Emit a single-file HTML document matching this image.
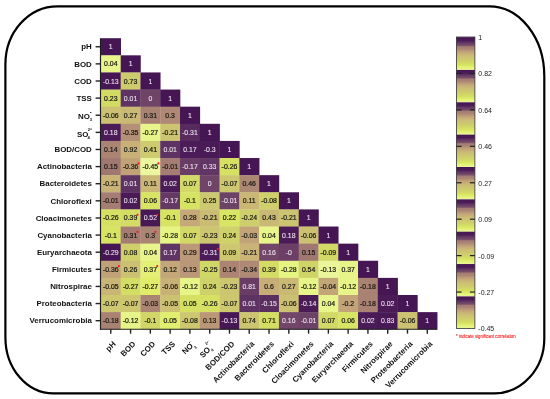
<!DOCTYPE html><html><head><meta charset="utf-8"><style>html,body{margin:0;padding:0;background:#fff;width:550px;height:399px;overflow:hidden}svg{display:block;will-change:transform}</style></head><body><svg width="550" height="399" viewBox="0 0 550 399">
<defs><linearGradient id="bg" x1="0" y1="0" x2="0" y2="1"><stop offset="0.0" stop-color="#461654"/><stop offset="0.1" stop-color="#4c1c58"/><stop offset="0.15" stop-color="#603463"/><stop offset="0.18" stop-color="#683c65"/><stop offset="0.24" stop-color="#784e6a"/><stop offset="0.28" stop-color="#a57c72"/><stop offset="0.35" stop-color="#ac8674"/><stop offset="0.41" stop-color="#bc9a78"/><stop offset="0.48" stop-color="#c7ac78"/><stop offset="0.55" stop-color="#cbbc74"/><stop offset="0.65" stop-color="#cdc870"/><stop offset="0.74" stop-color="#d0d468"/><stop offset="0.83" stop-color="#d7e362"/><stop offset="0.89" stop-color="#e0ee6c"/><stop offset="0.94" stop-color="#e6f482"/><stop offset="1.0" stop-color="#ebf69e"/></linearGradient></defs>
<path d="M 57.4 6.3 H 489.29999999999995 A 55 70 0 0 1 544.3 76.3 V 338.4 A 50 55 0 0 1 494.29999999999995 393.4 H 53.4 A 48 56 0 0 1 5.4 337.4 V 64.3 A 52 58 0 0 1 57.4 6.3 Z" fill="none" stroke="#000" stroke-width="2.2"/>
<g><rect x="100.90" y="38.20" width="20.08" height="17.42" fill="#461654"/><rect x="100.90" y="55.32" width="20.08" height="17.42" fill="#e8f58b"/><rect x="120.68" y="55.32" width="20.08" height="17.42" fill="#461654"/><rect x="100.90" y="72.44" width="20.08" height="17.42" fill="#471755"/><rect x="120.68" y="72.44" width="20.08" height="17.42" fill="#cecb6e"/><rect x="140.46" y="72.44" width="20.08" height="17.42" fill="#461654"/><rect x="100.90" y="89.56" width="20.08" height="17.42" fill="#d3db65"/><rect x="120.68" y="89.56" width="20.08" height="17.42" fill="#5e3262"/><rect x="140.46" y="89.56" width="20.08" height="17.42" fill="#6f4467"/><rect x="160.24" y="89.56" width="20.08" height="17.42" fill="#461654"/><rect x="100.90" y="106.68" width="20.08" height="17.42" fill="#ccc073"/><rect x="120.68" y="106.68" width="20.08" height="17.42" fill="#cab875"/><rect x="140.46" y="106.68" width="20.08" height="17.42" fill="#a98273"/><rect x="160.24" y="106.68" width="20.08" height="17.42" fill="#af8975"/><rect x="180.02" y="106.68" width="20.08" height="17.42" fill="#461654"/><rect x="100.90" y="123.80" width="20.08" height="17.42" fill="#4b1b58"/><rect x="120.68" y="123.80" width="20.08" height="17.42" fill="#b49076"/><rect x="140.46" y="123.80" width="20.08" height="17.42" fill="#e8f58b"/><rect x="160.24" y="123.80" width="20.08" height="17.42" fill="#ccc471"/><rect x="180.02" y="123.80" width="20.08" height="17.42" fill="#582b5f"/><rect x="199.80" y="123.80" width="20.08" height="17.42" fill="#461654"/><rect x="100.90" y="140.92" width="20.08" height="17.42" fill="#ab8474"/><rect x="120.68" y="140.92" width="20.08" height="17.42" fill="#c8b077"/><rect x="140.46" y="140.92" width="20.08" height="17.42" fill="#cdca6f"/><rect x="160.24" y="140.92" width="20.08" height="17.42" fill="#5e3262"/><rect x="180.02" y="140.92" width="20.08" height="17.42" fill="#4c1c58"/><rect x="199.80" y="140.92" width="20.08" height="17.42" fill="#4a1a57"/><rect x="219.58" y="140.92" width="20.08" height="17.42" fill="#461654"/><rect x="100.90" y="158.04" width="20.08" height="17.42" fill="#a07771"/><rect x="120.68" y="158.04" width="20.08" height="17.42" fill="#c1a278"/><rect x="140.46" y="158.04" width="20.08" height="17.42" fill="#ebf69e"/><rect x="160.24" y="158.04" width="20.08" height="17.42" fill="#a67d72"/><rect x="180.02" y="158.04" width="20.08" height="17.42" fill="#683c65"/><rect x="199.80" y="158.04" width="20.08" height="17.42" fill="#623664"/><rect x="219.58" y="158.04" width="20.08" height="17.42" fill="#d6e163"/><rect x="239.36" y="158.04" width="20.08" height="17.42" fill="#461654"/><rect x="100.90" y="175.16" width="20.08" height="17.42" fill="#c9b376"/><rect x="120.68" y="175.16" width="20.08" height="17.42" fill="#5e3262"/><rect x="140.46" y="175.16" width="20.08" height="17.42" fill="#cab675"/><rect x="160.24" y="175.16" width="20.08" height="17.42" fill="#4b1b57"/><rect x="180.02" y="175.16" width="20.08" height="17.42" fill="#d3d966"/><rect x="199.80" y="175.16" width="20.08" height="17.42" fill="#6f4467"/><rect x="219.58" y="175.16" width="20.08" height="17.42" fill="#cdc770"/><rect x="239.36" y="175.16" width="20.08" height="17.42" fill="#ac8774"/><rect x="259.14" y="175.16" width="20.08" height="17.42" fill="#461654"/><rect x="100.90" y="192.28" width="20.08" height="17.42" fill="#a67d72"/><rect x="120.68" y="192.28" width="20.08" height="17.42" fill="#4b1b57"/><rect x="140.46" y="192.28" width="20.08" height="17.42" fill="#d8e463"/><rect x="160.24" y="192.28" width="20.08" height="17.42" fill="#653964"/><rect x="180.02" y="192.28" width="20.08" height="17.42" fill="#d7e362"/><rect x="199.80" y="192.28" width="20.08" height="17.42" fill="#cdc970"/><rect x="219.58" y="192.28" width="20.08" height="17.42" fill="#6d4267"/><rect x="239.36" y="192.28" width="20.08" height="17.42" fill="#cab675"/><rect x="259.14" y="192.28" width="20.08" height="17.42" fill="#cfcf6b"/><rect x="278.92" y="192.28" width="20.08" height="17.42" fill="#461654"/><rect x="100.90" y="209.40" width="20.08" height="17.42" fill="#d6e163"/><rect x="120.68" y="209.40" width="20.08" height="17.42" fill="#d4dc65"/><rect x="140.46" y="209.40" width="20.08" height="17.42" fill="#491956"/><rect x="160.24" y="209.40" width="20.08" height="17.42" fill="#d7e362"/><rect x="180.02" y="209.40" width="20.08" height="17.42" fill="#c5a978"/><rect x="199.80" y="209.40" width="20.08" height="17.42" fill="#cbbc74"/><rect x="219.58" y="209.40" width="20.08" height="17.42" fill="#d9e564"/><rect x="239.36" y="209.40" width="20.08" height="17.42" fill="#cfce6c"/><rect x="259.14" y="209.40" width="20.08" height="17.42" fill="#cab975"/><rect x="278.92" y="209.40" width="20.08" height="17.42" fill="#ccc471"/><rect x="298.70" y="209.40" width="20.08" height="17.42" fill="#461654"/><rect x="100.90" y="226.52" width="20.08" height="17.42" fill="#d7e362"/><rect x="120.68" y="226.52" width="20.08" height="17.42" fill="#a57c72"/><rect x="140.46" y="226.52" width="20.08" height="17.42" fill="#ab8574"/><rect x="160.24" y="226.52" width="20.08" height="17.42" fill="#e6f484"/><rect x="180.02" y="226.52" width="20.08" height="17.42" fill="#d3d966"/><rect x="199.80" y="226.52" width="20.08" height="17.42" fill="#cdc671"/><rect x="219.58" y="226.52" width="20.08" height="17.42" fill="#cfd16a"/><rect x="239.36" y="226.52" width="20.08" height="17.42" fill="#c2a478"/><rect x="259.14" y="226.52" width="20.08" height="17.42" fill="#e8f58b"/><rect x="278.92" y="226.52" width="20.08" height="17.42" fill="#4b1b58"/><rect x="298.70" y="226.52" width="20.08" height="17.42" fill="#ccc073"/><rect x="318.48" y="226.52" width="20.08" height="17.42" fill="#461654"/><rect x="100.90" y="243.64" width="20.08" height="17.42" fill="#461654"/><rect x="120.68" y="243.64" width="20.08" height="17.42" fill="#cfd06b"/><rect x="140.46" y="243.64" width="20.08" height="17.42" fill="#e8f58b"/><rect x="160.24" y="243.64" width="20.08" height="17.42" fill="#603463"/><rect x="180.02" y="243.64" width="20.08" height="17.42" fill="#bb9978"/><rect x="199.80" y="243.64" width="20.08" height="17.42" fill="#4b1b57"/><rect x="219.58" y="243.64" width="20.08" height="17.42" fill="#cdc870"/><rect x="239.36" y="243.64" width="20.08" height="17.42" fill="#c9b376"/><rect x="259.14" y="243.64" width="20.08" height="17.42" fill="#714668"/><rect x="278.92" y="243.64" width="20.08" height="17.42" fill="#6b3f66"/><rect x="298.70" y="243.64" width="20.08" height="17.42" fill="#a07771"/><rect x="318.48" y="243.64" width="20.08" height="17.42" fill="#d2d866"/><rect x="338.26" y="243.64" width="20.08" height="17.42" fill="#461654"/><rect x="100.90" y="260.76" width="20.08" height="17.42" fill="#c1a278"/><rect x="120.68" y="260.76" width="20.08" height="17.42" fill="#ccc172"/><rect x="140.46" y="260.76" width="20.08" height="17.42" fill="#e2f075"/><rect x="160.24" y="260.76" width="20.08" height="17.42" fill="#c4a778"/><rect x="180.02" y="260.76" width="20.08" height="17.42" fill="#b99777"/><rect x="199.80" y="260.76" width="20.08" height="17.42" fill="#d1d767"/><rect x="219.58" y="260.76" width="20.08" height="17.42" fill="#ab8474"/><rect x="239.36" y="260.76" width="20.08" height="17.42" fill="#af8975"/><rect x="259.14" y="260.76" width="20.08" height="17.42" fill="#d4dc65"/><rect x="278.92" y="260.76" width="20.08" height="17.42" fill="#e6f484"/><rect x="298.70" y="260.76" width="20.08" height="17.42" fill="#d0d468"/><rect x="318.48" y="260.76" width="20.08" height="17.42" fill="#eaf699"/><rect x="338.26" y="260.76" width="20.08" height="17.42" fill="#e7f487"/><rect x="358.04" y="260.76" width="20.08" height="17.42" fill="#461654"/><rect x="100.90" y="277.88" width="20.08" height="17.42" fill="#c9b576"/><rect x="120.68" y="277.88" width="20.08" height="17.42" fill="#d5de64"/><rect x="140.46" y="277.88" width="20.08" height="17.42" fill="#dfed6b"/><rect x="160.24" y="277.88" width="20.08" height="17.42" fill="#c8b177"/><rect x="180.02" y="277.88" width="20.08" height="17.42" fill="#e7f487"/><rect x="199.80" y="277.88" width="20.08" height="17.42" fill="#cfd16a"/><rect x="219.58" y="277.88" width="20.08" height="17.42" fill="#cdc671"/><rect x="239.36" y="277.88" width="20.08" height="17.42" fill="#683c65"/><rect x="259.14" y="277.88" width="20.08" height="17.42" fill="#c7ad78"/><rect x="278.92" y="277.88" width="20.08" height="17.42" fill="#cab875"/><rect x="298.70" y="277.88" width="20.08" height="17.42" fill="#e7f487"/><rect x="318.48" y="277.88" width="20.08" height="17.42" fill="#c3a678"/><rect x="338.26" y="277.88" width="20.08" height="17.42" fill="#e7f487"/><rect x="358.04" y="277.88" width="20.08" height="17.42" fill="#a98273"/><rect x="377.82" y="277.88" width="20.08" height="17.42" fill="#461654"/><rect x="100.90" y="295.00" width="20.08" height="17.42" fill="#cdc770"/><rect x="120.68" y="295.00" width="20.08" height="17.42" fill="#cdc770"/><rect x="140.46" y="295.00" width="20.08" height="17.42" fill="#ab8574"/><rect x="160.24" y="295.00" width="20.08" height="17.42" fill="#ccc073"/><rect x="180.02" y="295.00" width="20.08" height="17.42" fill="#d6e163"/><rect x="199.80" y="295.00" width="20.08" height="17.42" fill="#d6e163"/><rect x="219.58" y="295.00" width="20.08" height="17.42" fill="#cdc770"/><rect x="239.36" y="295.00" width="20.08" height="17.42" fill="#5e3262"/><rect x="259.14" y="295.00" width="20.08" height="17.42" fill="#5b2e60"/><rect x="278.92" y="295.00" width="20.08" height="17.42" fill="#ccc073"/><rect x="298.70" y="295.00" width="20.08" height="17.42" fill="#4b1b57"/><rect x="318.48" y="295.00" width="20.08" height="17.42" fill="#e8f58b"/><rect x="338.26" y="295.00" width="20.08" height="17.42" fill="#c2a478"/><rect x="358.04" y="295.00" width="20.08" height="17.42" fill="#a98273"/><rect x="377.82" y="295.00" width="20.08" height="17.42" fill="#4b1b57"/><rect x="397.60" y="295.00" width="20.08" height="17.42" fill="#461654"/><rect x="100.90" y="312.12" width="20.08" height="17.42" fill="#a98273"/><rect x="120.68" y="312.12" width="20.08" height="17.42" fill="#e7f487"/><rect x="140.46" y="312.12" width="20.08" height="17.42" fill="#d1d667"/><rect x="160.24" y="312.12" width="20.08" height="17.42" fill="#e1ef6f"/><rect x="180.02" y="312.12" width="20.08" height="17.42" fill="#cdc770"/><rect x="199.80" y="312.12" width="20.08" height="17.42" fill="#b99777"/><rect x="219.58" y="312.12" width="20.08" height="17.42" fill="#471755"/><rect x="239.36" y="312.12" width="20.08" height="17.42" fill="#ccc471"/><rect x="259.14" y="312.12" width="20.08" height="17.42" fill="#d5de64"/><rect x="278.92" y="312.12" width="20.08" height="17.42" fill="#714668"/><rect x="298.70" y="312.12" width="20.08" height="17.42" fill="#6d4267"/><rect x="318.48" y="312.12" width="20.08" height="17.42" fill="#d3d966"/><rect x="338.26" y="312.12" width="20.08" height="17.42" fill="#d8e463"/><rect x="358.04" y="312.12" width="20.08" height="17.42" fill="#4b1b57"/><rect x="377.82" y="312.12" width="20.08" height="17.42" fill="#491956"/><rect x="397.60" y="312.12" width="20.08" height="17.42" fill="#ccc073"/><rect x="417.38" y="312.12" width="20.08" height="17.42" fill="#461654"/></g>
<g font-family="Liberation Sans, sans-serif" font-size="6.9" text-anchor="middle" stroke-width="0.22"><text x="110.79" y="49.26" fill="#efe6f0" stroke="#efe6f0" stroke-width="0.08">1</text><text x="110.79" y="66.38" fill="#1a1a14" stroke="#1a1a14" stroke-width="0.22">0.04</text><text x="130.57" y="66.38" fill="#efe6f0" stroke="#efe6f0" stroke-width="0.08">1</text><text x="110.79" y="83.50" fill="#efe6f0" stroke="#efe6f0" stroke-width="0.08">-0.13</text><text x="130.57" y="83.50" fill="#1a1a14" stroke="#1a1a14" stroke-width="0.22">0.73</text><text x="150.35" y="83.50" fill="#efe6f0" stroke="#efe6f0" stroke-width="0.08">1</text><text x="110.79" y="100.62" fill="#1a1a14" stroke="#1a1a14" stroke-width="0.22">0.23</text><text x="130.57" y="100.62" fill="#efe6f0" stroke="#efe6f0" stroke-width="0.08">0.01</text><text x="150.35" y="100.62" fill="#efe6f0" stroke="#efe6f0" stroke-width="0.08">0</text><text x="170.13" y="100.62" fill="#efe6f0" stroke="#efe6f0" stroke-width="0.08">1</text><text x="110.79" y="117.74" fill="#1a1a14" stroke="#1a1a14" stroke-width="0.22">-0.06</text><text x="130.57" y="117.74" fill="#1a1a14" stroke="#1a1a14" stroke-width="0.22">0.27</text><text x="150.35" y="117.74" fill="#1a1a14" stroke="#1a1a14" stroke-width="0.22">0.31</text><text x="170.13" y="117.74" fill="#1a1a14" stroke="#1a1a14" stroke-width="0.22">0.3</text><text x="189.91" y="117.74" fill="#efe6f0" stroke="#efe6f0" stroke-width="0.08">1</text><text x="110.79" y="134.86" fill="#efe6f0" stroke="#efe6f0" stroke-width="0.08">0.18</text><text x="130.57" y="134.86" fill="#1a1a14" stroke="#1a1a14" stroke-width="0.22">-0.35</text><text x="150.35" y="134.86" fill="#1a1a14" stroke="#1a1a14" stroke-width="0.22">-0.27</text><text x="170.13" y="134.86" fill="#1a1a14" stroke="#1a1a14" stroke-width="0.22">-0.21</text><text x="189.91" y="134.86" fill="#efe6f0" stroke="#efe6f0" stroke-width="0.08">-0.31</text><text x="209.69" y="134.86" fill="#efe6f0" stroke="#efe6f0" stroke-width="0.08">1</text><text x="110.79" y="151.98" fill="#1a1a14" stroke="#1a1a14" stroke-width="0.22">0.14</text><text x="130.57" y="151.98" fill="#1a1a14" stroke="#1a1a14" stroke-width="0.22">0.92</text><text x="150.35" y="151.98" fill="#1a1a14" stroke="#1a1a14" stroke-width="0.22">0.41</text><text x="170.13" y="151.98" fill="#efe6f0" stroke="#efe6f0" stroke-width="0.08">0.01</text><text x="189.91" y="151.98" fill="#efe6f0" stroke="#efe6f0" stroke-width="0.08">0.17</text><text x="209.69" y="151.98" fill="#efe6f0" stroke="#efe6f0" stroke-width="0.08">-0.3</text><text x="229.47" y="151.98" fill="#efe6f0" stroke="#efe6f0" stroke-width="0.08">1</text><text x="110.79" y="169.10" fill="#1a1a14" stroke="#1a1a14" stroke-width="0.22">0.15</text><text x="130.57" y="169.10" fill="#1a1a14" stroke="#1a1a14" stroke-width="0.22">-0.36</text><text x="150.35" y="169.10" fill="#1a1a14" stroke="#1a1a14" stroke-width="0.22">-0.45</text><text x="170.13" y="169.10" fill="#1a1a14" stroke="#1a1a14" stroke-width="0.22">-0.01</text><text x="189.91" y="169.10" fill="#efe6f0" stroke="#efe6f0" stroke-width="0.08">-0.17</text><text x="209.69" y="169.10" fill="#efe6f0" stroke="#efe6f0" stroke-width="0.08">0.33</text><text x="229.47" y="169.10" fill="#1a1a14" stroke="#1a1a14" stroke-width="0.22">-0.26</text><text x="249.25" y="169.10" fill="#efe6f0" stroke="#efe6f0" stroke-width="0.08">1</text><text x="110.79" y="186.22" fill="#1a1a14" stroke="#1a1a14" stroke-width="0.22">-0.21</text><text x="130.57" y="186.22" fill="#efe6f0" stroke="#efe6f0" stroke-width="0.08">0.01</text><text x="150.35" y="186.22" fill="#1a1a14" stroke="#1a1a14" stroke-width="0.22">0.11</text><text x="170.13" y="186.22" fill="#efe6f0" stroke="#efe6f0" stroke-width="0.08">0.02</text><text x="189.91" y="186.22" fill="#1a1a14" stroke="#1a1a14" stroke-width="0.22">0.07</text><text x="209.69" y="186.22" fill="#efe6f0" stroke="#efe6f0" stroke-width="0.08">0</text><text x="229.47" y="186.22" fill="#1a1a14" stroke="#1a1a14" stroke-width="0.22">-0.07</text><text x="249.25" y="186.22" fill="#1a1a14" stroke="#1a1a14" stroke-width="0.22">0.46</text><text x="269.03" y="186.22" fill="#efe6f0" stroke="#efe6f0" stroke-width="0.08">1</text><text x="110.79" y="203.34" fill="#1a1a14" stroke="#1a1a14" stroke-width="0.22">-0.01</text><text x="130.57" y="203.34" fill="#efe6f0" stroke="#efe6f0" stroke-width="0.08">0.02</text><text x="150.35" y="203.34" fill="#1a1a14" stroke="#1a1a14" stroke-width="0.22">0.06</text><text x="170.13" y="203.34" fill="#efe6f0" stroke="#efe6f0" stroke-width="0.08">-0.17</text><text x="189.91" y="203.34" fill="#1a1a14" stroke="#1a1a14" stroke-width="0.22">-0.1</text><text x="209.69" y="203.34" fill="#1a1a14" stroke="#1a1a14" stroke-width="0.22">0.25</text><text x="229.47" y="203.34" fill="#efe6f0" stroke="#efe6f0" stroke-width="0.08">-0.01</text><text x="249.25" y="203.34" fill="#1a1a14" stroke="#1a1a14" stroke-width="0.22">0.11</text><text x="269.03" y="203.34" fill="#1a1a14" stroke="#1a1a14" stroke-width="0.22">-0.08</text><text x="288.81" y="203.34" fill="#efe6f0" stroke="#efe6f0" stroke-width="0.08">1</text><text x="110.79" y="220.46" fill="#1a1a14" stroke="#1a1a14" stroke-width="0.22">-0.26</text><text x="130.57" y="220.46" fill="#1a1a14" stroke="#1a1a14" stroke-width="0.22">0.39</text><text x="150.35" y="220.46" fill="#efe6f0" stroke="#efe6f0" stroke-width="0.08">0.52</text><text x="170.13" y="220.46" fill="#1a1a14" stroke="#1a1a14" stroke-width="0.22">-0.1</text><text x="189.91" y="220.46" fill="#1a1a14" stroke="#1a1a14" stroke-width="0.22">0.28</text><text x="209.69" y="220.46" fill="#1a1a14" stroke="#1a1a14" stroke-width="0.22">-0.21</text><text x="229.47" y="220.46" fill="#1a1a14" stroke="#1a1a14" stroke-width="0.22">0.22</text><text x="249.25" y="220.46" fill="#1a1a14" stroke="#1a1a14" stroke-width="0.22">-0.24</text><text x="269.03" y="220.46" fill="#1a1a14" stroke="#1a1a14" stroke-width="0.22">0.43</text><text x="288.81" y="220.46" fill="#1a1a14" stroke="#1a1a14" stroke-width="0.22">-0.21</text><text x="308.59" y="220.46" fill="#efe6f0" stroke="#efe6f0" stroke-width="0.08">1</text><text x="110.79" y="237.58" fill="#1a1a14" stroke="#1a1a14" stroke-width="0.22">-0.1</text><text x="130.57" y="237.58" fill="#1a1a14" stroke="#1a1a14" stroke-width="0.22">0.31</text><text x="150.35" y="237.58" fill="#1a1a14" stroke="#1a1a14" stroke-width="0.22">0.3</text><text x="170.13" y="237.58" fill="#1a1a14" stroke="#1a1a14" stroke-width="0.22">-0.28</text><text x="189.91" y="237.58" fill="#1a1a14" stroke="#1a1a14" stroke-width="0.22">0.07</text><text x="209.69" y="237.58" fill="#1a1a14" stroke="#1a1a14" stroke-width="0.22">-0.23</text><text x="229.47" y="237.58" fill="#1a1a14" stroke="#1a1a14" stroke-width="0.22">0.24</text><text x="249.25" y="237.58" fill="#1a1a14" stroke="#1a1a14" stroke-width="0.22">-0.03</text><text x="269.03" y="237.58" fill="#1a1a14" stroke="#1a1a14" stroke-width="0.22">0.04</text><text x="288.81" y="237.58" fill="#efe6f0" stroke="#efe6f0" stroke-width="0.08">0.18</text><text x="308.59" y="237.58" fill="#1a1a14" stroke="#1a1a14" stroke-width="0.22">-0.06</text><text x="328.37" y="237.58" fill="#efe6f0" stroke="#efe6f0" stroke-width="0.08">1</text><text x="110.79" y="254.70" fill="#efe6f0" stroke="#efe6f0" stroke-width="0.08">-0.29</text><text x="130.57" y="254.70" fill="#1a1a14" stroke="#1a1a14" stroke-width="0.22">0.08</text><text x="150.35" y="254.70" fill="#1a1a14" stroke="#1a1a14" stroke-width="0.22">0.04</text><text x="170.13" y="254.70" fill="#efe6f0" stroke="#efe6f0" stroke-width="0.08">0.17</text><text x="189.91" y="254.70" fill="#1a1a14" stroke="#1a1a14" stroke-width="0.22">0.29</text><text x="209.69" y="254.70" fill="#efe6f0" stroke="#efe6f0" stroke-width="0.08">-0.31</text><text x="229.47" y="254.70" fill="#1a1a14" stroke="#1a1a14" stroke-width="0.22">0.09</text><text x="249.25" y="254.70" fill="#1a1a14" stroke="#1a1a14" stroke-width="0.22">-0.21</text><text x="269.03" y="254.70" fill="#efe6f0" stroke="#efe6f0" stroke-width="0.08">0.16</text><text x="288.81" y="254.70" fill="#efe6f0" stroke="#efe6f0" stroke-width="0.08">-0</text><text x="308.59" y="254.70" fill="#1a1a14" stroke="#1a1a14" stroke-width="0.22">0.15</text><text x="328.37" y="254.70" fill="#1a1a14" stroke="#1a1a14" stroke-width="0.22">-0.09</text><text x="348.15" y="254.70" fill="#efe6f0" stroke="#efe6f0" stroke-width="0.08">1</text><text x="110.79" y="271.82" fill="#1a1a14" stroke="#1a1a14" stroke-width="0.22">-0.36</text><text x="130.57" y="271.82" fill="#1a1a14" stroke="#1a1a14" stroke-width="0.22">0.26</text><text x="150.35" y="271.82" fill="#1a1a14" stroke="#1a1a14" stroke-width="0.22">0.37</text><text x="170.13" y="271.82" fill="#1a1a14" stroke="#1a1a14" stroke-width="0.22">0.12</text><text x="189.91" y="271.82" fill="#1a1a14" stroke="#1a1a14" stroke-width="0.22">0.13</text><text x="209.69" y="271.82" fill="#1a1a14" stroke="#1a1a14" stroke-width="0.22">-0.25</text><text x="229.47" y="271.82" fill="#1a1a14" stroke="#1a1a14" stroke-width="0.22">0.14</text><text x="249.25" y="271.82" fill="#1a1a14" stroke="#1a1a14" stroke-width="0.22">-0.34</text><text x="269.03" y="271.82" fill="#1a1a14" stroke="#1a1a14" stroke-width="0.22">0.39</text><text x="288.81" y="271.82" fill="#1a1a14" stroke="#1a1a14" stroke-width="0.22">-0.28</text><text x="308.59" y="271.82" fill="#1a1a14" stroke="#1a1a14" stroke-width="0.22">0.54</text><text x="328.37" y="271.82" fill="#1a1a14" stroke="#1a1a14" stroke-width="0.22">-0.13</text><text x="348.15" y="271.82" fill="#1a1a14" stroke="#1a1a14" stroke-width="0.22">0.37</text><text x="367.93" y="271.82" fill="#efe6f0" stroke="#efe6f0" stroke-width="0.08">1</text><text x="110.79" y="288.94" fill="#1a1a14" stroke="#1a1a14" stroke-width="0.22">-0.05</text><text x="130.57" y="288.94" fill="#1a1a14" stroke="#1a1a14" stroke-width="0.22">-0.27</text><text x="150.35" y="288.94" fill="#1a1a14" stroke="#1a1a14" stroke-width="0.22">-0.27</text><text x="170.13" y="288.94" fill="#1a1a14" stroke="#1a1a14" stroke-width="0.22">-0.06</text><text x="189.91" y="288.94" fill="#1a1a14" stroke="#1a1a14" stroke-width="0.22">-0.12</text><text x="209.69" y="288.94" fill="#1a1a14" stroke="#1a1a14" stroke-width="0.22">0.24</text><text x="229.47" y="288.94" fill="#1a1a14" stroke="#1a1a14" stroke-width="0.22">-0.23</text><text x="249.25" y="288.94" fill="#efe6f0" stroke="#efe6f0" stroke-width="0.08">0.81</text><text x="269.03" y="288.94" fill="#1a1a14" stroke="#1a1a14" stroke-width="0.22">0.6</text><text x="288.81" y="288.94" fill="#1a1a14" stroke="#1a1a14" stroke-width="0.22">0.27</text><text x="308.59" y="288.94" fill="#1a1a14" stroke="#1a1a14" stroke-width="0.22">-0.12</text><text x="328.37" y="288.94" fill="#1a1a14" stroke="#1a1a14" stroke-width="0.22">-0.04</text><text x="348.15" y="288.94" fill="#1a1a14" stroke="#1a1a14" stroke-width="0.22">-0.12</text><text x="367.93" y="288.94" fill="#1a1a14" stroke="#1a1a14" stroke-width="0.22">-0.18</text><text x="387.71" y="288.94" fill="#efe6f0" stroke="#efe6f0" stroke-width="0.08">1</text><text x="110.79" y="306.06" fill="#1a1a14" stroke="#1a1a14" stroke-width="0.22">-0.07</text><text x="130.57" y="306.06" fill="#1a1a14" stroke="#1a1a14" stroke-width="0.22">-0.07</text><text x="150.35" y="306.06" fill="#1a1a14" stroke="#1a1a14" stroke-width="0.22">-0.03</text><text x="170.13" y="306.06" fill="#1a1a14" stroke="#1a1a14" stroke-width="0.22">-0.05</text><text x="189.91" y="306.06" fill="#1a1a14" stroke="#1a1a14" stroke-width="0.22">0.05</text><text x="209.69" y="306.06" fill="#1a1a14" stroke="#1a1a14" stroke-width="0.22">-0.26</text><text x="229.47" y="306.06" fill="#1a1a14" stroke="#1a1a14" stroke-width="0.22">-0.07</text><text x="249.25" y="306.06" fill="#efe6f0" stroke="#efe6f0" stroke-width="0.08">0.01</text><text x="269.03" y="306.06" fill="#efe6f0" stroke="#efe6f0" stroke-width="0.08">-0.15</text><text x="288.81" y="306.06" fill="#1a1a14" stroke="#1a1a14" stroke-width="0.22">-0.06</text><text x="308.59" y="306.06" fill="#efe6f0" stroke="#efe6f0" stroke-width="0.08">-0.14</text><text x="328.37" y="306.06" fill="#1a1a14" stroke="#1a1a14" stroke-width="0.22">0.04</text><text x="348.15" y="306.06" fill="#1a1a14" stroke="#1a1a14" stroke-width="0.22">-0.2</text><text x="367.93" y="306.06" fill="#1a1a14" stroke="#1a1a14" stroke-width="0.22">-0.18</text><text x="387.71" y="306.06" fill="#efe6f0" stroke="#efe6f0" stroke-width="0.08">0.02</text><text x="407.49" y="306.06" fill="#efe6f0" stroke="#efe6f0" stroke-width="0.08">1</text><text x="110.79" y="323.18" fill="#1a1a14" stroke="#1a1a14" stroke-width="0.22">-0.18</text><text x="130.57" y="323.18" fill="#1a1a14" stroke="#1a1a14" stroke-width="0.22">-0.12</text><text x="150.35" y="323.18" fill="#1a1a14" stroke="#1a1a14" stroke-width="0.22">-0.1</text><text x="170.13" y="323.18" fill="#1a1a14" stroke="#1a1a14" stroke-width="0.22">0.05</text><text x="189.91" y="323.18" fill="#1a1a14" stroke="#1a1a14" stroke-width="0.22">-0.08</text><text x="209.69" y="323.18" fill="#1a1a14" stroke="#1a1a14" stroke-width="0.22">0.13</text><text x="229.47" y="323.18" fill="#efe6f0" stroke="#efe6f0" stroke-width="0.08">-0.13</text><text x="249.25" y="323.18" fill="#1a1a14" stroke="#1a1a14" stroke-width="0.22">0.74</text><text x="269.03" y="323.18" fill="#1a1a14" stroke="#1a1a14" stroke-width="0.22">0.71</text><text x="288.81" y="323.18" fill="#efe6f0" stroke="#efe6f0" stroke-width="0.08">0.16</text><text x="308.59" y="323.18" fill="#efe6f0" stroke="#efe6f0" stroke-width="0.08">-0.01</text><text x="328.37" y="323.18" fill="#1a1a14" stroke="#1a1a14" stroke-width="0.22">0.07</text><text x="348.15" y="323.18" fill="#1a1a14" stroke="#1a1a14" stroke-width="0.22">0.06</text><text x="367.93" y="323.18" fill="#efe6f0" stroke="#efe6f0" stroke-width="0.08">0.02</text><text x="387.71" y="323.18" fill="#efe6f0" stroke="#efe6f0" stroke-width="0.08">0.83</text><text x="407.49" y="323.18" fill="#1a1a14" stroke="#1a1a14" stroke-width="0.22">-0.06</text><text x="427.27" y="323.18" fill="#efe6f0" stroke="#efe6f0" stroke-width="0.08">1</text></g>
<circle cx="138.63" cy="163.40" r="1.1" fill="#ff1a1a"/><circle cx="158.41" cy="163.40" r="1.1" fill="#ff1a1a"/><circle cx="137.48" cy="214.76" r="1.1" fill="#ff1a1a"/><circle cx="157.26" cy="214.76" r="1.1" fill="#ff1a1a"/><circle cx="137.48" cy="231.88" r="1.1" fill="#ff1a1a"/><circle cx="155.35" cy="231.88" r="1.1" fill="#ff1a1a"/><circle cx="217.75" cy="249.00" r="1.1" fill="#ff1a1a"/><circle cx="118.85" cy="266.12" r="1.1" fill="#ff1a1a"/><circle cx="157.26" cy="266.12" r="1.1" fill="#ff1a1a"/>
<line x1="100.50" y1="38.20" x2="100.50" y2="329.74" stroke="#222" stroke-width="1.2"/>
<line x1="99.90" y1="329.24" x2="437.16" y2="329.24" stroke="#222" stroke-width="1.2"/>
<line x1="95.6" y1="46.76" x2="100.50" y2="46.76" stroke="#222" stroke-width="1.4"/><line x1="110.79" y1="329.24" x2="110.79" y2="333.64" stroke="#222" stroke-width="1.4"/><line x1="95.6" y1="63.88" x2="100.50" y2="63.88" stroke="#222" stroke-width="1.4"/><line x1="130.57" y1="329.24" x2="130.57" y2="333.64" stroke="#222" stroke-width="1.4"/><line x1="95.6" y1="81.00" x2="100.50" y2="81.00" stroke="#222" stroke-width="1.4"/><line x1="150.35" y1="329.24" x2="150.35" y2="333.64" stroke="#222" stroke-width="1.4"/><line x1="95.6" y1="98.12" x2="100.50" y2="98.12" stroke="#222" stroke-width="1.4"/><line x1="170.13" y1="329.24" x2="170.13" y2="333.64" stroke="#222" stroke-width="1.4"/><line x1="95.6" y1="115.24" x2="100.50" y2="115.24" stroke="#222" stroke-width="1.4"/><line x1="189.91" y1="329.24" x2="189.91" y2="333.64" stroke="#222" stroke-width="1.4"/><line x1="95.6" y1="132.36" x2="100.50" y2="132.36" stroke="#222" stroke-width="1.4"/><line x1="209.69" y1="329.24" x2="209.69" y2="333.64" stroke="#222" stroke-width="1.4"/><line x1="95.6" y1="149.48" x2="100.50" y2="149.48" stroke="#222" stroke-width="1.4"/><line x1="229.47" y1="329.24" x2="229.47" y2="333.64" stroke="#222" stroke-width="1.4"/><line x1="95.6" y1="166.60" x2="100.50" y2="166.60" stroke="#222" stroke-width="1.4"/><line x1="249.25" y1="329.24" x2="249.25" y2="333.64" stroke="#222" stroke-width="1.4"/><line x1="95.6" y1="183.72" x2="100.50" y2="183.72" stroke="#222" stroke-width="1.4"/><line x1="269.03" y1="329.24" x2="269.03" y2="333.64" stroke="#222" stroke-width="1.4"/><line x1="95.6" y1="200.84" x2="100.50" y2="200.84" stroke="#222" stroke-width="1.4"/><line x1="288.81" y1="329.24" x2="288.81" y2="333.64" stroke="#222" stroke-width="1.4"/><line x1="95.6" y1="217.96" x2="100.50" y2="217.96" stroke="#222" stroke-width="1.4"/><line x1="308.59" y1="329.24" x2="308.59" y2="333.64" stroke="#222" stroke-width="1.4"/><line x1="95.6" y1="235.08" x2="100.50" y2="235.08" stroke="#222" stroke-width="1.4"/><line x1="328.37" y1="329.24" x2="328.37" y2="333.64" stroke="#222" stroke-width="1.4"/><line x1="95.6" y1="252.20" x2="100.50" y2="252.20" stroke="#222" stroke-width="1.4"/><line x1="348.15" y1="329.24" x2="348.15" y2="333.64" stroke="#222" stroke-width="1.4"/><line x1="95.6" y1="269.32" x2="100.50" y2="269.32" stroke="#222" stroke-width="1.4"/><line x1="367.93" y1="329.24" x2="367.93" y2="333.64" stroke="#222" stroke-width="1.4"/><line x1="95.6" y1="286.44" x2="100.50" y2="286.44" stroke="#222" stroke-width="1.4"/><line x1="387.71" y1="329.24" x2="387.71" y2="333.64" stroke="#222" stroke-width="1.4"/><line x1="95.6" y1="303.56" x2="100.50" y2="303.56" stroke="#222" stroke-width="1.4"/><line x1="407.49" y1="329.24" x2="407.49" y2="333.64" stroke="#222" stroke-width="1.4"/><line x1="95.6" y1="320.68" x2="100.50" y2="320.68" stroke="#222" stroke-width="1.4"/><line x1="427.27" y1="329.24" x2="427.27" y2="333.64" stroke="#222" stroke-width="1.4"/>
<g font-family="Liberation Sans, sans-serif" font-size="7.9" font-weight="bold" fill="#111" text-anchor="end"><text x="91.8" y="49.46">pH</text><text x="91.8" y="66.58">BOD</text><text x="91.8" y="83.70">COD</text><text x="91.8" y="100.82">TSS</text><text x="89.9" y="119.04">NO</text><text x="89.7" y="121.24" font-size="4.2" text-anchor="start">3</text><line x1="90.0" y1="112.54" x2="91.4" y2="112.54" stroke="#111" stroke-width="0.9"/><text x="88.5" y="136.76">SO</text><text x="87.4" y="139.16" font-size="4.2" text-anchor="start">4</text><text x="87.8" y="130.56" font-size="4.0" text-anchor="start">2</text><line x1="90.2" y1="129.16" x2="92.0" y2="129.16" stroke="#111" stroke-width="0.8"/><text x="91.8" y="152.18">BOD/COD</text><text x="91.8" y="169.30">Actinobacteria</text><text x="91.8" y="186.42">Bacteroidetes</text><text x="91.8" y="203.54">Chloroflexi</text><text x="91.8" y="220.66">Cloacimonetes</text><text x="91.8" y="237.78">Cyanobacteria</text><text x="91.8" y="254.90">Euryarchaeota</text><text x="91.8" y="272.02">Firmicutes</text><text x="91.8" y="289.14">Nitrospirae</text><text x="91.8" y="306.26">Proteobacteria</text><text x="91.8" y="323.38">Verrucomicrobia</text></g>
<g font-family="Liberation Sans, sans-serif" font-size="7.9" font-weight="bold" fill="#111" text-anchor="end"><text transform="translate(116.29,344.50) rotate(-45)">pH</text><text transform="translate(136.07,344.50) rotate(-45)">BOD</text><text transform="translate(155.85,344.50) rotate(-45)">COD</text><text transform="translate(175.63,344.50) rotate(-45)">TSS</text><g transform="translate(195.41,344.50) rotate(-45)"><text x="-2.6" y="0.2">NO</text><text x="-3.3" y="3.3" font-size="4.2" text-anchor="start">3</text><line x1="-3.2" y1="-5.6" x2="-1.8" y2="-5.6" stroke="#111" stroke-width="0.9"/></g><g transform="translate(215.19,344.50) rotate(-45)"><text x="-7.0" y="1.0">SO</text><text x="-7.2" y="3.4" font-size="4.2" text-anchor="start">4</text><text x="-6.7" y="-5.7" font-size="4.0" text-anchor="start">2</text><line x1="-4.4" y1="-7.1" x2="-2.6" y2="-7.1" stroke="#111" stroke-width="0.8"/></g><text transform="translate(234.97,344.50) rotate(-45)">BOD/COD</text><text transform="translate(254.75,344.50) rotate(-45)">Actinobacteria</text><text transform="translate(274.53,344.50) rotate(-45)">Bacteroidetes</text><text transform="translate(294.31,344.50) rotate(-45)">Chloroflexi</text><text transform="translate(314.09,344.50) rotate(-45)">Cloacimonetes</text><text transform="translate(333.87,344.50) rotate(-45)">Cyanobacteria</text><text transform="translate(353.65,344.50) rotate(-45)">Euryarchaeota</text><text transform="translate(373.43,344.50) rotate(-45)">Firmicutes</text><text transform="translate(393.21,344.50) rotate(-45)">Nitrospirae</text><text transform="translate(412.99,344.50) rotate(-45)">Proteobacteria</text><text transform="translate(432.77,344.50) rotate(-45)">Verrucomicrobia</text></g>
<rect x="456.4" y="37.0" width="18.5" height="0.80" fill="#461654"/>
<rect x="456.4" y="37.60" width="18.5" height="32.55" fill="url(#bg)"/>
<rect x="456.4" y="69.95" width="18.5" height="32.55" fill="url(#bg)"/>
<rect x="456.4" y="102.30" width="18.5" height="32.55" fill="url(#bg)"/>
<rect x="456.4" y="134.65" width="18.5" height="32.55" fill="url(#bg)"/>
<rect x="456.4" y="167.00" width="18.5" height="32.55" fill="url(#bg)"/>
<rect x="456.4" y="199.35" width="18.5" height="32.55" fill="url(#bg)"/>
<rect x="456.4" y="231.70" width="18.5" height="32.55" fill="url(#bg)"/>
<rect x="456.4" y="264.05" width="18.5" height="32.55" fill="url(#bg)"/>
<rect x="456.4" y="296.40" width="18.5" height="32.10" fill="url(#bg)"/>
<rect x="456.4" y="37.0" width="18.5" height="291.5" fill="none" stroke="#333" stroke-width="0.8"/>
<text x="478.3" y="39.90" font-family="Liberation Sans, sans-serif" font-size="7.0" fill="#1a1a1a">1</text>
<line x1="456.4" y1="73.44" x2="461.59999999999997" y2="73.44" stroke="#222" stroke-width="1.2"/>
<line x1="469.9" y1="73.44" x2="474.9" y2="73.44" stroke="#222" stroke-width="1.2"/>
<text x="478.3" y="76.34" font-family="Liberation Sans, sans-serif" font-size="7.0" fill="#1a1a1a">0.82</text>
<line x1="456.4" y1="109.88" x2="461.59999999999997" y2="109.88" stroke="#222" stroke-width="1.2"/>
<line x1="469.9" y1="109.88" x2="474.9" y2="109.88" stroke="#222" stroke-width="1.2"/>
<text x="478.3" y="112.78" font-family="Liberation Sans, sans-serif" font-size="7.0" fill="#1a1a1a">0.64</text>
<line x1="456.4" y1="146.31" x2="461.59999999999997" y2="146.31" stroke="#222" stroke-width="1.2"/>
<line x1="469.9" y1="146.31" x2="474.9" y2="146.31" stroke="#222" stroke-width="1.2"/>
<text x="478.3" y="149.21" font-family="Liberation Sans, sans-serif" font-size="7.0" fill="#1a1a1a">0.46</text>
<line x1="456.4" y1="182.75" x2="461.59999999999997" y2="182.75" stroke="#222" stroke-width="1.2"/>
<line x1="469.9" y1="182.75" x2="474.9" y2="182.75" stroke="#222" stroke-width="1.2"/>
<text x="478.3" y="185.65" font-family="Liberation Sans, sans-serif" font-size="7.0" fill="#1a1a1a">0.27</text>
<line x1="456.4" y1="219.19" x2="461.59999999999997" y2="219.19" stroke="#222" stroke-width="1.2"/>
<line x1="469.9" y1="219.19" x2="474.9" y2="219.19" stroke="#222" stroke-width="1.2"/>
<text x="478.3" y="222.09" font-family="Liberation Sans, sans-serif" font-size="7.0" fill="#1a1a1a">0.09</text>
<line x1="456.4" y1="255.62" x2="461.59999999999997" y2="255.62" stroke="#222" stroke-width="1.2"/>
<line x1="469.9" y1="255.62" x2="474.9" y2="255.62" stroke="#222" stroke-width="1.2"/>
<text x="478.3" y="258.52" font-family="Liberation Sans, sans-serif" font-size="7.0" fill="#1a1a1a">-0.09</text>
<line x1="456.4" y1="292.06" x2="461.59999999999997" y2="292.06" stroke="#222" stroke-width="1.2"/>
<line x1="469.9" y1="292.06" x2="474.9" y2="292.06" stroke="#222" stroke-width="1.2"/>
<text x="478.3" y="294.96" font-family="Liberation Sans, sans-serif" font-size="7.0" fill="#1a1a1a">-0.27</text>
<text x="478.3" y="331.40" font-family="Liberation Sans, sans-serif" font-size="7.0" fill="#1a1a1a">-0.45</text>
<text x="455.9" y="337.7" font-family="Liberation Sans, sans-serif" font-size="4.9" fill="#ff2020" stroke="#ff2020" stroke-width="0.1" textLength="59.7" lengthAdjust="spacingAndGlyphs">* indicate significant correlation</text>
</svg></body></html>
